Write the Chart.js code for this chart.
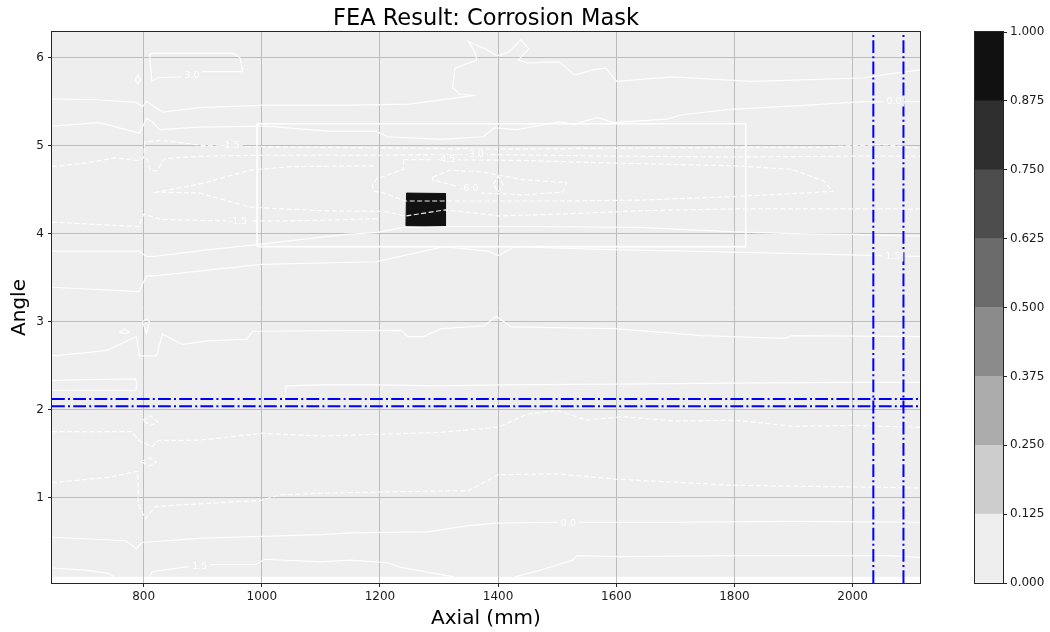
<!DOCTYPE html>
<html>
<head>
<meta charset="utf-8">
<script src="https://cdn.jsdelivr.net/npm/chart.js@4.4.1/dist/chart.umd.min.js"></script>
<style>
  html, body { margin: 0; padding: 0; background: #ffffff; }
  #wrap { position: relative; width: 1050px; height: 632px; }
  #main { position: absolute; left: 0; top: 0; }
  #cbar { position: absolute; left: 955px; top: 0; }
</style>
</head>
<body>
<div id="wrap">
  <canvas id="main" width="1050" height="632" style="width:1050px;height:632px"></canvas>
  <canvas id="cbar" width="95" height="632" style="width:95px;height:632px"></canvas>
</div>
<script>
// ---- axes ----
const axialRange = [645, 2114];
const angleRange = [0.03, 6.29];
const axialTicks = [800, 1000, 1200, 1400, 1600, 1800, 2000];
const angleTicks = [1, 2, 3, 4, 5, 6];
const chartTitle = 'FEA Result: Corrosion Mask';

// ---- mask levels (colour bar) ----
const levelBounds = [0, 0.125, 0.25, 0.375, 0.5, 0.625, 0.75, 0.875, 1.0];
const levelGreys = [238, 205, 172, 139, 107, 77, 47, 17];

// ---- mask field ----
const fieldAxial = [645, 2114];
const fieldAngle = [0.10, 6.29];
const maskLevel = 1.0;
const maskOutline = [[1244, 4.09], [1245, 4.46], [1311, 4.455], [1311, 4.085], [1280, 4.083]];

// ---- inspection zone and probe lines ----
const zoneAxial = [992, 1819];
const zoneAngle = [3.852, 5.247];
const probeAxial = [2035, 2086];
const probeAngle = [2.037, 2.12];

// ---- depth contours, positive levels (solid) ----
const pos30Loop = [[810, 6.03], [815, 6.05], [900, 6.05], [951, 6.05], [963, 6.0], [968, 5.84], [900, 5.84], [882, 5.80], [861, 5.78], [824, 5.77], [814, 5.73], [812, 5.89], [810, 6.03]];
const pos30Dot = [[786, 5.75], [790, 5.80], [795, 5.75], [790, 5.70], [786, 5.75]];
const pos15Upper = [[645, 5.53], [720, 5.52], [788, 5.49], [798, 5.44], [805, 5.50], [832, 5.38], [895, 5.43], [1008, 5.46], [1149, 5.46], [1250, 5.47], [1361, 5.57], [1336, 5.58], [1323, 5.66], [1327, 5.88], [1364, 5.97], [1361, 6.06], [1350, 6.18], [1378, 6.10], [1398, 6.02], [1418, 6.06], [1438, 6.20], [1452, 6.10], [1434, 5.97], [1450, 5.94], [1504, 5.95], [1529, 5.80], [1560, 5.86], [1582, 5.88], [1601, 5.73], [1697, 5.78], [1827, 5.73], [1930, 5.75], [2020, 5.77], [2070, 5.82], [2114, 5.86]];
const zeroUpper = [[645, 5.22], [725, 5.26], [788, 5.15], [793, 5.14], [805, 5.31], [815, 5.27], [827, 5.18], [895, 5.21], [1008, 5.22], [1117, 5.16], [1194, 5.16], [1213, 5.10], [1303, 5.07], [1375, 5.10], [1393, 5.20], [1432, 5.18], [1504, 5.27], [1529, 5.24], [1568, 5.32], [1594, 5.26], [1686, 5.30], [1711, 5.35], [1794, 5.41], [1924, 5.46], [2020, 5.50], [2114, 5.50]];
const zeroMid = [[645, 3.80], [792, 3.80], [805, 3.74], [819, 3.74], [900, 3.81], [999, 3.88], [1142, 3.99], [1194, 4.01], [1240, 4.07], [1312, 4.08], [1450, 4.08], [1640, 4.07], [1800, 4.02], [1900, 4.00], [2000, 3.99], [2114, 3.97]];
const pos15Mid = [[645, 3.39], [792, 3.34], [805, 3.52], [819, 3.52], [999, 3.65], [1194, 3.68], [1240, 3.75], [1308, 3.85], [1383, 3.80], [1400, 3.75], [1427, 3.85], [1575, 3.82], [1801, 3.79], [2051, 3.75], [2114, 3.74]];
const pos30Mid = [[645, 2.61], [737, 2.67], [788, 2.83], [793, 2.61], [822, 2.61], [832, 2.86], [866, 2.74], [907, 2.78], [975, 2.80], [985, 2.89], [1235, 2.90], [1247, 2.83], [1274, 2.83], [1303, 2.92], [1376, 2.95], [1397, 3.06], [1422, 2.94], [1597, 2.92], [1745, 2.84], [1886, 2.81], [1898, 2.84], [2114, 2.83]];
const pos30DotA = [[798, 3.0], [805, 2.87], [810, 3.0], [805, 3.03], [798, 3.0]];
const pos30DotB = [[759, 2.88], [768, 2.91], [776, 2.88], [768, 2.86], [759, 2.88]];
const pos45Left = [[645, 2.33], [700, 2.34], [786, 2.35], [789, 2.30], [787, 2.22], [700, 2.22], [645, 2.22]];
const pos45Right = [[1039, 2.10], [1041, 2.27], [1100, 2.28], [1200, 2.28], [1300, 2.27], [1400, 2.28], [1600, 2.29], [1800, 2.30], [2000, 2.31], [2114, 2.31]];
const zeroLower = [[645, 0.55], [770, 0.51], [788, 0.42], [797, 0.49], [900, 0.54], [1000, 0.56], [1100, 0.58], [1150, 0.60], [1281, 0.61], [1346, 0.68], [1398, 0.71], [1497, 0.72], [1700, 0.72], [1900, 0.73], [2114, 0.72]];
const pos15LowA = [[645, 0.20], [700, 0.18], [740, 0.14], [750, 0.10]];
const pos15LowB = [[810, 0.10], [815, 0.16], [870, 0.21], [920, 0.24], [990, 0.24], [1005, 0.30], [1100, 0.27], [1149, 0.29], [1213, 0.26], [1233, 0.21], [1325, 0.10]];
const pos15LowC = [[1428, 0.10], [1474, 0.18], [1526, 0.29], [1533, 0.34], [1604, 0.33], [1800, 0.34], [2060, 0.34], [2114, 0.32]];

// ---- depth contours, negative levels (dashed) ----
const neg15Upper = [[645, 4.76], [700, 4.80], [752, 4.86], [790, 4.83], [800, 4.86], [802, 5.04], [830, 5.06], [900, 5.00], [947, 4.99], [1100, 4.98], [1250, 4.97], [1400, 4.96], [1600, 4.97], [1800, 4.98], [1950, 4.98], [2000, 5.00], [2050, 5.01], [2114, 4.97]];
const neg30Upper = [[805, 4.86], [812, 4.72], [822, 4.71], [835, 4.85], [900, 4.88], [1000, 4.89], [1200, 4.89], [1360, 4.90], [1600, 4.88], [1800, 4.87], [2000, 4.88], [2114, 4.88]];
const neg30Tongue = [[1190, 4.77], [1050, 4.76], [980, 4.72], [900, 4.57], [822, 4.47], [895, 4.46], [980, 4.30], [1100, 4.26], [1208, 4.25], [1244, 4.20], [1311, 4.27], [1402, 4.20], [1500, 4.22], [1640, 4.26], [1800, 4.28], [2000, 4.28], [2114, 4.28]];
const neg45Loop = [[1240, 4.84], [1312, 4.84], [1450, 4.83], [1600, 4.80], [1800, 4.77], [1897, 4.73], [1950, 4.60], [1967, 4.48], [1916, 4.46], [1800, 4.42], [1640, 4.38], [1500, 4.37], [1400, 4.37], [1311, 4.37], [1244, 4.37], [1206, 4.46], [1190, 4.48], [1187, 4.55], [1194, 4.62], [1240, 4.73], [1240, 4.84]];
const neg60Loop = [[1289, 4.64], [1318, 4.72], [1374, 4.70], [1442, 4.61], [1516, 4.58], [1509, 4.47], [1442, 4.44], [1374, 4.46], [1289, 4.61], [1289, 4.64]];
const neg60Dot = [[1392, 4.56], [1400, 4.65], [1408, 4.56], [1400, 4.47], [1392, 4.56]];
const neg15Lower = [[645, 4.13], [760, 4.09], [792, 4.08], [800, 4.22], [830, 4.16], [960, 4.14], [1100, 4.15], [1200, 4.17]];
const neg15Band = [[645, 1.75], [780, 1.75], [793, 1.64], [815, 1.58], [825, 1.65], [890, 1.65], [1000, 1.73], [1100, 1.70], [1200, 1.72], [1300, 1.74], [1400, 1.80], [1450, 1.95], [1500, 1.99], [1550, 1.88], [1610, 1.92], [1700, 1.87], [1800, 1.88], [1900, 1.81], [2000, 1.82], [2114, 1.80]];
const neg15Low = [[645, 1.17], [740, 1.23], [790, 1.30], [791, 0.92], [803, 0.76], [820, 0.90], [1000, 0.97], [1030, 1.03], [1100, 1.05], [1250, 1.07], [1350, 1.08], [1400, 1.26], [1500, 1.27], [1600, 1.21], [1800, 1.14], [2114, 1.11]];
const neg15DotA = [[798, 1.88], [812, 1.93], [824, 1.86], [812, 1.82], [798, 1.88]];
const neg15DotB = [[795, 1.41], [812, 1.45], [822, 1.40], [810, 1.36], [795, 1.41]];

// ---- contour level labels: text, axial, angle ----
const contourLabels = [
  ['3.0', 882, 5.80], ['0.0', 2070, 5.50], ['-1.5', 947, 5.00], ['-4.5', 1312, 4.84],
  ['-3.0', 1360, 4.90], ['-6.0', 1351, 4.51], ['-1.5', 960, 4.14], ['1.5', 2068, 3.74],
  ['0.0', 1519, 0.71], ['1.5', 895, 0.22]
];

const solidContours = [pos30Loop, pos30Dot, pos15Upper, zeroUpper, zeroMid, pos15Mid, pos30Mid, pos30DotA, pos30DotB, pos45Left, pos45Right, zeroLower, pos15LowA, pos15LowB, pos15LowC];
const dashedContours = [neg15Upper, neg30Upper, neg30Tongue, neg45Loop, neg60Loop, neg60Dot, neg15Lower, neg15Band, neg15Low, neg15DotA, neg15DotB];

const FONT = "'DejaVu Sans', 'Liberation Sans', sans-serif";
const grey = g => `rgb(${g},${g},${g})`;
const levelColour = v => {
  for (let k = 0; k < levelBounds.length - 1; k++) {
    if (v < levelBounds[k + 1]) return grey(levelGreys[k]);
  }
  return grey(levelGreys[levelGreys.length - 1]);
};
const toPts = arr => arr.map(([x, y]) => ({ x, y }));

const datasets = [];

// corrosion mask patch
datasets.push({
  data: toPts(maskOutline.concat([maskOutline[0]])),
  showLine: true, fill: 'shape', backgroundColor: levelColour(maskLevel),
  borderColor: levelColour(maskLevel), borderWidth: 1, pointRadius: 0, order: 50
});

// contour lines
solidContours.forEach(c => datasets.push({
  data: toPts(c), showLine: true, fill: false, borderColor: 'rgba(255,255,255,0.92)',
  borderWidth: 1.2, pointRadius: 0, tension: 0, order: 40
}));
dashedContours.forEach(c => datasets.push({
  data: toPts(c), showLine: true, fill: false, borderColor: 'rgba(255,255,255,0.92)',
  borderWidth: 1.2, borderDash: [5, 2.5], pointRadius: 0, tension: 0, order: 40
}));

// inspection zone outline
datasets.push({
  data: toPts([[zoneAxial[0], zoneAngle[0]], [zoneAxial[0], zoneAngle[1]], [zoneAxial[1], zoneAngle[1]], [zoneAxial[1], zoneAngle[0]], [zoneAxial[0], zoneAngle[0]]]),
  showLine: true, fill: false, borderColor: '#ffffff', borderWidth: 1.6, pointRadius: 0, order: 30
});

// probe lines
probeAxial.forEach(a => datasets.push({
  data: toPts([[a, angleRange[0]], [a, angleRange[1]]]), showLine: true, fill: false,
  borderColor: '#0000ff', borderWidth: 2, borderDash: [12.8, 3.2, 2, 3.2], pointRadius: 0, order: 10
}));
probeAngle.forEach(g => datasets.push({
  data: toPts([[axialRange[0], g], [axialRange[1], g]]), showLine: true, fill: false,
  borderColor: '#0000ff', borderWidth: 2, borderDash: [12.8, 3.2, 2, 3.2], pointRadius: 0, order: 10
}));

// field background (lowest level) under the grid, plus the title centred on the plot
const fieldPlugin = {
  id: 'field',
  beforeDraw(chart) {
    const { ctx, scales: { x, y }, chartArea: a } = chart;
    ctx.save();
    ctx.font = `22.5px ${FONT}`;
    ctx.fillStyle = '#000';
    ctx.textAlign = 'center'; ctx.textBaseline = 'alphabetic';
    ctx.fillText(chartTitle, (a.left + a.right) / 2, 25);
    ctx.beginPath(); ctx.rect(a.left, a.top, a.right - a.left, a.bottom - a.top); ctx.clip();
    const x0 = x.getPixelForValue(fieldAxial[0]), x1 = x.getPixelForValue(fieldAxial[1]);
    const y0 = y.getPixelForValue(fieldAngle[1]), y1 = y.getPixelForValue(fieldAngle[0]);
    ctx.fillStyle = levelColour(levelBounds[0]);
    ctx.fillRect(x0, y0, x1 - x0, y1 - y0);
    ctx.restore();
  }
};

// contour labels and axes frame
const overlayPlugin = {
  id: 'overlay',
  afterDatasetsDraw(chart) {
    const { ctx, scales: { x, y }, chartArea: a } = chart;
    ctx.save();
    ctx.font = `9.5px ${FONT}`;
    ctx.textAlign = 'center'; ctx.textBaseline = 'middle';
    contourLabels.forEach(([t, ax, an]) => {
      const px = x.getPixelForValue(ax), py = y.getPixelForValue(an);
      const w = ctx.measureText(t).width;
      ctx.fillStyle = levelColour(levelBounds[0]);
      ctx.fillRect(px - w / 2 - 3, py - 5, w + 6, 10);
      ctx.fillStyle = 'rgba(255,255,255,0.95)';
      ctx.fillText(t, px, py);
    });
    ctx.strokeStyle = '#262626'; ctx.lineWidth = 1;
    ctx.strokeRect(Math.round(a.left) - 0.5, Math.round(a.top) - 0.5, Math.round(a.right - a.left) + 1, Math.round(a.bottom - a.top) + 1);
    ctx.restore();
  }
};

new Chart(document.getElementById('main'), {
  type: 'scatter',
  data: { datasets },
  plugins: [fieldPlugin, overlayPlugin],
  options: {
    responsive: false, animation: false, devicePixelRatio: 1,
    layout: { padding: { left: 0, right: 130, top: 32, bottom: 0 } },
    plugins: { legend: { display: false }, tooltip: { enabled: false }, title: { display: false } },
    scales: {
      x: {
        type: 'linear', min: axialRange[0], max: axialRange[1],
        afterBuildTicks: s => { s.ticks = axialTicks.map(v => ({ value: v })); },
        afterFit: s => { s.height = 49; },
        grid: { color: '#bdbdbd', lineWidth: 1, tickColor: '#262626', tickLength: 4 },
        border: { display: false },
        ticks: { color: '#1a1a1a', font: { family: FONT, size: 12 }, padding: 3, maxRotation: 0, callback: v => String(v) },
        title: { display: true, text: 'Axial (mm)', color: '#000', font: { family: FONT, size: 20 }, padding: { top: 0, bottom: 1 } }
      },
      y: {
        type: 'linear', min: angleRange[0], max: angleRange[1],
        afterBuildTicks: s => { s.ticks = angleTicks.map(v => ({ value: v })); },
        afterFit: s => { s.width = 52; },
        grid: { color: '#bdbdbd', lineWidth: 1, tickColor: '#262626', tickLength: 4 },
        border: { display: false },
        ticks: { color: '#1a1a1a', font: { family: FONT, size: 12 }, padding: 4, callback: v => String(v) },
        title: { display: true, text: 'Angle', color: '#000', font: { family: FONT, size: 20 }, padding: { top: 8, bottom: 0 } }
      }
    }
  }
});

// ---- colour bar: one stacked bar, one segment per level band ----
const bandSizes = levelBounds.slice(1).map((b, i) => b - levelBounds[i]);
const cbarFrame = {
  id: 'cbarFrame',
  afterDatasetsDraw(chart) {
    const { ctx, chartArea: a } = chart;
    ctx.save();
    ctx.strokeStyle = '#262626'; ctx.lineWidth = 1;
    ctx.strokeRect(Math.round(a.left) - 0.5, Math.round(a.top) - 0.5, Math.round(a.right - a.left) + 1, Math.round(a.bottom - a.top) + 1);
    ctx.restore();
  }
};
new Chart(document.getElementById('cbar'), {
  type: 'bar',
  data: {
    labels: [''],
    datasets: bandSizes.map((s, i) => ({
      data: [s], backgroundColor: grey(levelGreys[i]), borderWidth: 0,
      barPercentage: 1, categoryPercentage: 1, stack: 'levels'
    }))
  },
  plugins: [cbarFrame],
  options: {
    responsive: false, animation: false, devicePixelRatio: 1,
    layout: { padding: { left: 20, right: 0, top: 32, bottom: 49 } },
    plugins: { legend: { display: false }, tooltip: { enabled: false } },
    scales: {
      x: { display: false, stacked: true },
      y: {
        position: 'right', stacked: true, min: 0, max: 1,
        afterBuildTicks: s => { s.ticks = levelBounds.map(v => ({ value: v })); },
        afterFit: s => { s.width = 47; },
        grid: { drawOnChartArea: false, tickColor: '#262626', tickLength: 4 },
        border: { display: false },
        ticks: { color: '#1a1a1a', font: { family: FONT, size: 12 }, padding: 3, callback: v => Number(v).toFixed(3) }
      }
    }
  }
});
</script>
</body>
</html>
